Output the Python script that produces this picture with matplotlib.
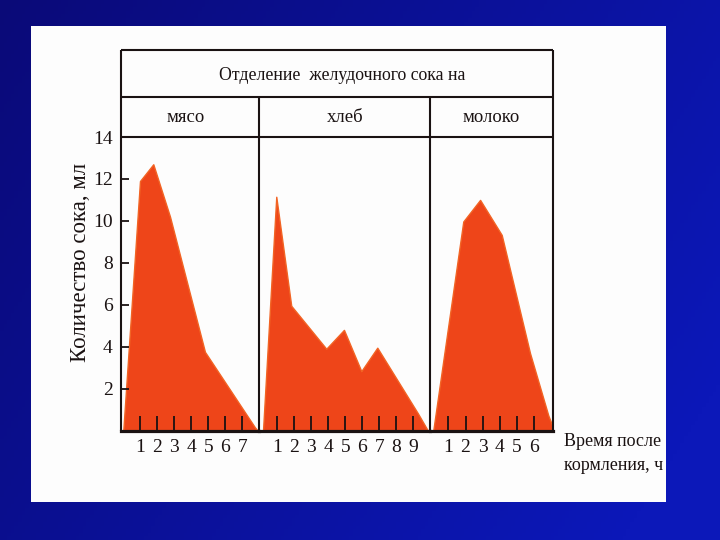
import numpy as np
import matplotlib
matplotlib.use("Agg")
import matplotlib.pyplot as plt
from matplotlib.patches import Rectangle

# ---- data (hours after feeding, juice volume in ml) ----
meat_h = [0.02, 1.0, 1.78, 2.76, 4.81, 7.74, 7.9]
meat_v = [0.0, 11.9, 12.7, 10.2, 3.75, 0.15, 0.0]
bread_h = [0.16, 0.94, 1.82, 3.88, 4.92, 5.94, 6.88, 9.28, 9.85]
bread_v = [0.0, 11.15, 5.95, 3.9, 4.8, 2.83, 3.95, 0.8, 0.0]
milk_h = [0.12, 1.87, 2.85, 4.11, 5.76, 6.83, 7.08]
milk_v = [0.0, 9.97, 11.0, 9.33, 3.69, 0.71, 0.2]

meat_ticks = [1, 2, 3, 4, 5, 6, 7]
bread_ticks = [1, 2, 3, 4, 5, 6, 7, 8, 9]
milk_ticks = [1, 2, 3, 4, 5, 6]
y_ticks = [2, 4, 6, 8, 10, 12, 14]

title = "Отделение  желудочного сока на"
panel_names = ["мясо", "хлеб", "молоко"]
ylabel = "Количество сока, мл"
xlabel_lines = ["Время после", "кормления, ч"]

FONT = "Liberation Serif"
FILL = "#ee4519"
EDGE = "#f26424"
INK = "#1a1212"

W, H = 720, 540
fig = plt.figure(figsize=(7.2, 5.4), dpi=100)

def rect(l, t, r, b):
    return [l / W, 1 - b / H, (r - l) / W, (b - t) / H]

# background gradient + white card
bg = fig.add_axes([0, 0, 1, 1], zorder=0)
xx = np.linspace(0, 1, 200)[None, :]
yy = np.linspace(0, 1, 150)[:, None]
t = np.clip(0.75 * xx + 0.35 * yy, 0, 1)
c0 = np.array([10, 10, 120]) / 255
c1 = np.array([12, 24, 185]) / 255
img = c0[None, None, :] * (1 - t[..., None]) + c1[None, None, :] * t[..., None]
bg.imshow(img, extent=[0, W, H, 0], aspect="auto")
bg.add_patch(Rectangle((31, 26), 635, 476, facecolor="#fdfdfd", edgecolor="none"))
bg.set_xlim(0, W)
bg.set_ylim(H, 0)
bg.axis("off")

TOP, BOT = 137, 430.5
panels = [
    (121, 259, (-0.114, 7.98), meat_h, meat_v, meat_ticks),
    (259, 430, (-0.076, 9.98), bread_h, bread_v, bread_ticks),
    (430, 553, (-0.07, 7.1), milk_h, milk_v, milk_ticks),
]
for i, (l, r, xl, hx, vy, tks) in enumerate(panels):
    ax = fig.add_axes(rect(l, TOP, r, BOT), zorder=2)
    ax.patch.set_alpha(0)
    ax.fill_between(hx, vy, 0, facecolor=FILL, edgecolor=EDGE, linewidth=1.0)
    ax.set_xlim(*xl)
    ax.set_ylim(0, 14)
    ax.set_axisbelow(False)
    for s in ["top", "right", "left"]:
        ax.spines[s].set_visible(False)
    ax.spines["bottom"].set_linewidth(2.3)
    ax.spines["bottom"].set_color(INK)
    ax.set_xticks(tks)
    ax.set_xticklabels([str(k) for k in tks], fontfamily=FONT, fontsize=14, color=INK)
    ax.tick_params(axis="x", direction="in", length=11, width=1.3, color=INK, pad=6)
    if i == 0:
        ax.set_yticks(y_ticks)
        ax.set_yticklabels([str(k) for k in y_ticks], fontfamily=FONT, fontsize=14, color=INK)
        ax.tick_params(axis="y", direction="in", length=6, width=1.3, color=INK, pad=6)
    else:
        ax.set_yticks([])

# overlay frame and texts in pixel coordinates
ov = fig.add_axes([0, 0, 1, 1], zorder=3)
ov.patch.set_alpha(0)
ov.set_xlim(0, W)
ov.set_ylim(H, 0)
ov.axis("off")
lw = 1.5
for y in (50, 97, 137):
    ov.plot([121, 553], [y, y], color=INK, lw=lw, solid_capstyle="butt")
for x in (121, 553):
    ov.plot([x, x], [50, 430.5], color=INK, lw=lw, solid_capstyle="butt")
for x in (259, 430):
    ov.plot([x, x], [97, 430.5], color=INK, lw=lw, solid_capstyle="butt")

ov.text(342, 75, title, fontfamily=FONT, fontsize=12.8, color=INK, ha="center", va="center")
for name, cx in zip(panel_names, [186, 345, 491]):
    ov.text(cx, 117, name, fontfamily=FONT, fontsize=13.5, color=INK, ha="center", va="center")
ov.text(80, 262, ylabel, fontfamily=FONT, fontsize=16.5, color=INK, rotation=90,
        ha="center", va="center")
ov.text(564, 441, xlabel_lines[0], fontfamily=FONT, fontsize=13, color=INK, ha="left", va="center")
ov.text(564, 466, xlabel_lines[1], fontfamily=FONT, fontsize=13, color=INK, ha="left", va="center")

fig.savefig("out.png", dpi=100)
